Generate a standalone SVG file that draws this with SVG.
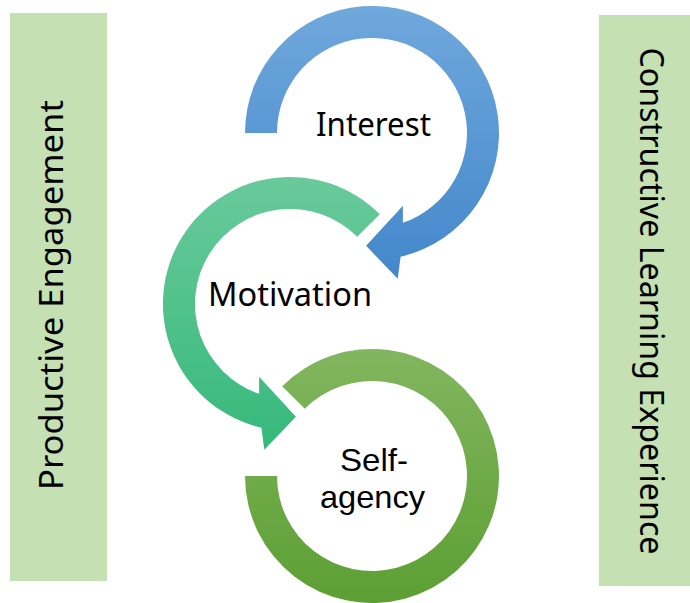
<svg xmlns="http://www.w3.org/2000/svg" width="690" height="603" viewBox="0 0 690 603">
  <defs>
    <linearGradient id="gradBlue" gradientUnits="userSpaceOnUse" x1="0" y1="6" x2="0" y2="279">
      <stop offset="0" stop-color="#6fa8dc"/>
      <stop offset="1" stop-color="#4387cb"/>
    </linearGradient>
    <linearGradient id="gradTeal" gradientUnits="userSpaceOnUse" x1="0" y1="177" x2="0" y2="450">
      <stop offset="0" stop-color="#69ca9b"/>
      <stop offset="1" stop-color="#36b97b"/>
    </linearGradient>
    <linearGradient id="gradGreen" gradientUnits="userSpaceOnUse" x1="0" y1="349" x2="0" y2="603">
      <stop offset="0" stop-color="#82b65f"/>
      <stop offset="1" stop-color="#5c9f33"/>
    </linearGradient>
  </defs>
  <style>
    .band { fill: #c5e0b3; }
    .label { font-family: "Noto Sans", "Open Sans", "Liberation Sans", sans-serif; font-size: 32px; fill: #000000; }
    .tight { font-family: "Liberation Sans", "Noto Sans", sans-serif; }
    .mid { text-anchor: middle; }
  </style>

  <rect width="690" height="603" fill="#ffffff"/>

  <!-- side bands -->
  <g id="productive-engagement">
    <rect class="band" x="10" y="13" width="97" height="568"/>
    <text class="label mid" transform="translate(63,295) rotate(-90)" x="0" y="0" textLength="390" lengthAdjust="spacingAndGlyphs">Productive Engagement</text>
  </g>

  <g id="constructive-learning-experience">
    <rect class="band" x="599" y="15" width="91" height="571"/>
    <text class="label mid" transform="translate(640,301) rotate(90)" x="0" y="0" textLength="507" lengthAdjust="spacingAndGlyphs">Constructive Learning Experience</text>
  </g>

  <!-- cycle: Interest -> Motivation -> Self-agency -->
  <g id="interest">
    <path fill="url(#gradBlue)" d="M245,133 A127,127 0 1 1 400.6,256.7 L397.7,278.8 L366.1,245.8 L402.9,205.7 L402.9,222.8 A95,95 0 1 0 277,133 Z"/>
    <text class="label" x="316" y="136" textLength="115" lengthAdjust="spacingAndGlyphs">Interest</text>
  </g>

  <g id="motivation">
    <path fill="url(#gradTeal)" d="M379.8,214.2 A127,127 0 1 0 261.4,427.7 L264.3,449.8 L295.9,416.8 L259.1,376.7 L259.1,393.8 A95,95 0 1 1 357.2,236.8 Z"/>
    <text class="label" x="208" y="306" textLength="164" lengthAdjust="spacingAndGlyphs">Motivation</text>
  </g>

  <g id="self-agency">
    <path fill="url(#gradGreen)" d="M245,476 A127,127 0 1 0 282.2,386.2 L304.8,408.8 A95,95 0 1 1 277,476 Z"/>
    <text class="label tight" x="340" y="471" textLength="68" lengthAdjust="spacingAndGlyphs">Self-</text>
    <text class="label tight" x="320" y="508" textLength="105" lengthAdjust="spacingAndGlyphs">agency</text>
  </g>

  <g id="connectors"/>
</svg>
